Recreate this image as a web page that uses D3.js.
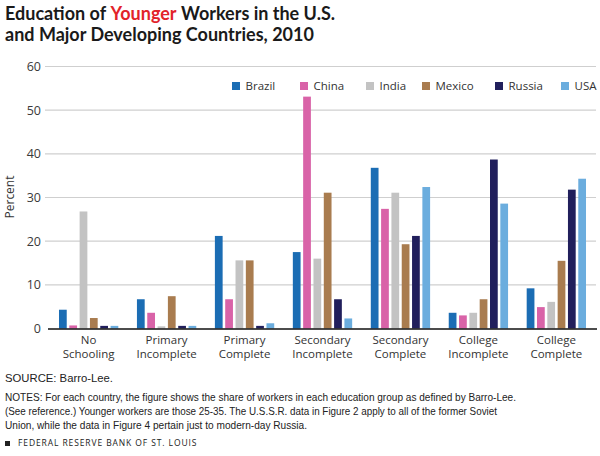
<!DOCTYPE html>
<html><head><meta charset="utf-8">
<script src="https://cdn.jsdelivr.net/npm/d3@7"></script>
<style>
body{margin:0;background:#fff;}
svg{display:block;}
</style>
</head><body>
<svg id="chart" width="600" height="456"></svg>
<script>
const categories = [["No","Schooling"],["Primary","Incomplete"],["Primary","Complete"],["Secondary","Incomplete"],["Secondary","Complete"],["College","Incomplete"],["College","Complete"]];
const countries = ["Brazil","China","India","Mexico","Russia","USA"];
const colors = ["#1b6db4","#d963a8","#c3c3c3","#a97c4f","#211f5c","#6badde"];
const brazil = [4.3, 6.7, 21.2, 17.5, 36.8, 3.6, 9.2];
const china  = [0.7, 3.6, 6.7, 53.1, 27.4, 3.0, 4.9];
const india  = [26.8, 0.5, 15.6, 16.0, 31.1, 3.6, 6.1];
const mexico = [2.4, 7.4, 15.6, 31.1, 19.3, 6.7, 15.5];
const russia = [0.6, 0.6, 0.6, 6.7, 21.2, 38.7, 31.8];
const usa    = [0.6, 0.6, 1.2, 2.3, 32.4, 28.6, 34.3];
const yTicks = [0,10,20,30,40,50,60];

const series = [brazil, china, india, mexico, russia, usa];
const svg = d3.select("#chart");

// Title (line 1 as separate word groups)
const titleG = svg.append("g").attr("font-family","Lato, 'Open Sans', sans-serif")
  .attr("font-weight","bold").attr("font-size",18).attr("fill","#1a1a1a");
const pieces = [["Education of","#1a1a1a"],["Younger","#e2232a"],["Workers in the U.S.","#1a1a1a"]];
let tx = 5;
pieces.forEach(p=>{
  const t = titleG.append("text").attr("x",tx).attr("y",20).attr("fill",p[1]).text(p[0]);
  tx += t.node().getComputedTextLength() + 4.5;
});
titleG.append("text").attr("x",5).attr("y",40.5).text("and Major Developing Countries, 2010");

const y = d3.scaleLinear().domain([0,60]).range([328.5,66.5]);
const x0 = d3.scaleBand().domain(d3.range(categories.length)).range([48,597]).paddingInner(0.239).paddingOuter(0.141);
const x1 = d3.scaleBand().domain(countries).range([0,x0.bandwidth()]).paddingInner(0.25);

// gridlines
svg.append("g").selectAll("line").data(yTicks.filter(d=>d>0)).join("line")
  .attr("x1",45).attr("x2",596).attr("y1",d=>y(d)).attr("y2",d=>y(d))
  .attr("stroke","#cfcfcf").attr("stroke-width",1.2);

// y axis labels
const yAxis = d3.axisLeft(y).tickValues(yTicks).tickSize(0).tickPadding(0);
const ya = svg.append("g").attr("transform","translate(41,0)").call(yAxis);
ya.select(".domain").remove();
ya.selectAll("text").attr("font-family","'Open Sans', sans-serif").attr("font-size",12.5).attr("fill","#3a3a3a");

// bars
const g = svg.append("g");
categories.forEach((c,i)=>{
  series.forEach((s,j)=>{
    g.append("rect").attr("x",x0(i)+x1(countries[j])).attr("width",x1.bandwidth())
      .attr("y",y(s[i])).attr("height",y(0)-y(s[i])).attr("fill",colors[j]);
  });
});

// baseline
svg.append("line").attr("x1",48).attr("x2",597).attr("y1",y(0)+0.5).attr("y2",y(0)+0.5).attr("stroke","#111").attr("stroke-width",1.5);

// x labels
const xl = svg.append("g").attr("font-family","'Open Sans', sans-serif").attr("font-size",11.5).attr("fill","#333").attr("text-anchor","middle");
categories.forEach((c,i)=>{
  const cx = x0(i)+x0.bandwidth()/2;
  xl.append("text").attr("x",cx).attr("y",344).text(c[0]);
  xl.append("text").attr("x",cx).attr("y",358).text(c[1]);
});

// y title
svg.append("text").attr("transform","translate(14,197) rotate(-90)").attr("text-anchor","middle")
  .attr("font-family","'Open Sans', sans-serif").attr("font-size",12).attr("fill","#333").text("Percent");

// legend
const legX = [232,300,366,422,495,561];
const lg = svg.append("g").attr("font-family","'Open Sans', sans-serif").attr("font-size",11.5).attr("fill","#333");
countries.forEach((c,j)=>{
  lg.append("rect").attr("x",legX[j]).attr("y",82).attr("width",8).attr("height",8).attr("fill",colors[j]);
  lg.append("text").attr("x",legX[j]+13.5).attr("y",90).text(c);
});

// footnotes
const fn = svg.append("g").attr("font-family","'Liberation Sans Narrow', 'Liberation Sans', sans-serif").attr("font-size",11.3).attr("fill","#222");
fn.append("text").attr("x",5).attr("y",382).text("SOURCE: Barro-Lee.");
const notes = ["NOTES: For each country, the figure shows the share of workers in each education group as defined by Barro-Lee.",
 "(See reference.) Younger workers are those 25-35. The U.S.S.R. data in Figure 2 apply to all of the former Soviet",
 "Union, while the data in Figure 4 pertain just to modern-day Russia."];
const notesW = [511, 492, 302];
notes.forEach((n,i)=>{
  fn.append("text").attr("x",5).attr("y",400.5+i*14.2).attr("textLength",notesW[i]).attr("lengthAdjust","spacingAndGlyphs").text(n);
});
svg.append("rect").attr("x",5).attr("y",441).attr("width",5).attr("height",5).attr("fill","#222");
svg.append("text").attr("x",18).attr("y",446).attr("font-family","'Open Sans', sans-serif").attr("font-size",8.5)
  .attr("letter-spacing",1.6).attr("fill","#222").attr("textLength",180).text("FEDERAL RESERVE BANK OF ST. LOUIS");
</script>
</body></html>
